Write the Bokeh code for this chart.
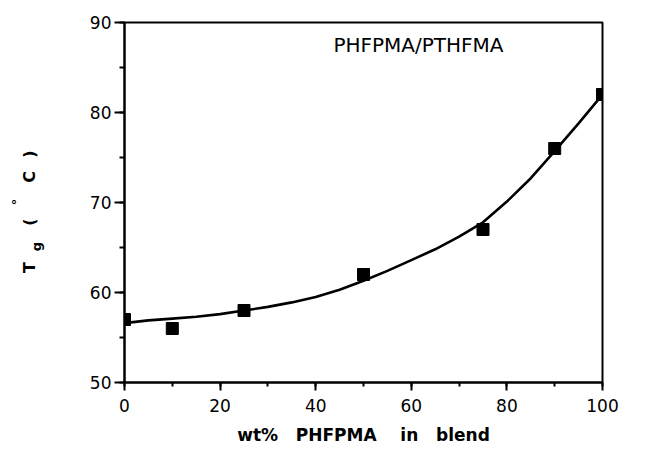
from bokeh.plotting import figure
from bokeh.layouts import row
from bokeh.models import Range1d, SingleIntervalTicker, Label
from bokeh.embed import file_html
from bokeh.resources import INLINE
import math

# measured data
wt_pct = [0, 10, 25, 50, 75, 90, 100]
tg = [57, 56, 58, 62, 67, 76, 82]

# fitted curve
curve_x = [0, 5, 10, 15, 20, 25, 30, 35, 40, 45, 50, 55, 60, 65, 70, 75, 80, 85, 90, 95, 100]
curve_y = [56.6, 56.9, 57.1, 57.3, 57.6, 58.0, 58.4, 58.9, 59.5, 60.3, 61.3, 62.4, 63.6, 64.8, 66.2, 67.8, 70.1, 72.7, 75.7, 78.8, 82.0]

series_label = "PHFPMA/PTHFMA"
x_title = "wt%\u00a0\u00a0\u00a0PHFPMA\u00a0\u00a0\u00a0\u00a0in\u00a0\u00a0\u00a0blend"

FRAME_BOTTOM = 382  # canvas row of the plot frame's bottom edge

# ---- narrow side panel holding the rotated y title ----
side = figure(width=50, height=456, x_range=Range1d(0, 50), y_range=Range1d(0, 360),
              output_backend="svg", toolbar_location=None,
              min_border_left=0, min_border_right=0, min_border_top=22, min_border_bottom=74)
side.axis.visible = False
side.grid.visible = False
side.outline_line_color = None
side.background_fill_color = "white"
side.border_fill_color = "white"

def ylab(txt, cx, cy, size):
    side.add_layout(Label(x=cx, y=FRAME_BOTTOM - cy, x_units="screen", y_units="screen",
                          text=txt, angle=math.pi / 2, text_font="DejaVu Sans",
                          text_font_style="bold", text_font_size=size,
                          text_align="center", text_baseline="middle", text_color="black"))

ylab("T", 29, 267, "16px")
ylab("g", 36, 246, "13px")
ylab("(", 28.5, 221.5, "16px")
ylab("°", 15.5, 201.5, "13px")
ylab("C", 28.5, 176.5, "16px")
ylab(")", 28.5, 153.5, "16px")

# ---- main plot ----
p = figure(width=605, height=456, x_range=Range1d(0, 100), y_range=Range1d(50, 90),
           output_backend="svg", toolbar_location=None,
           min_border_left=74, min_border_right=53, min_border_top=22, min_border_bottom=74)
p.background_fill_color = "white"
p.border_fill_color = "white"
p.outline_line_color = "black"
p.outline_line_width = 2
p.grid.visible = False

p.xaxis.ticker = SingleIntervalTicker(interval=20, num_minor_ticks=2)
p.yaxis.ticker = SingleIntervalTicker(interval=10, num_minor_ticks=2)

for ax in (p.xaxis[0], p.yaxis[0]):
    ax.axis_line_width = 2
    ax.axis_line_color = "black"
    ax.major_tick_line_width = 2
    ax.minor_tick_line_width = 2
    ax.major_tick_in = 0
    ax.minor_tick_in = 0
    ax.major_label_text_font = "DejaVu Sans"
    ax.major_label_text_font_size = "17px"
    ax.major_label_text_color = "black"

p.xaxis.major_tick_out = 8
p.xaxis.minor_tick_out = 4
p.xaxis.major_label_standoff = 8
p.xaxis.axis_label = x_title
p.xaxis.axis_label_text_font = "DejaVu Sans"
p.xaxis.axis_label_text_font_style = "bold"
p.xaxis.axis_label_text_font_size = "17px"
p.xaxis.axis_label_text_color = "black"
p.xaxis.axis_label_standoff = 10

p.yaxis.major_tick_out = 10
p.yaxis.minor_tick_out = 5
p.yaxis.major_label_standoff = 3

p.line(curve_x, curve_y, line_color="black", line_width=2.6)
p.scatter(wt_pct, tg, marker="square", size=12, color="black")

p.add_layout(Label(x=43.7, y=87.5, text=series_label, text_font="DejaVu Sans",
                   text_font_size="20px", text_baseline="middle", text_align="left",
                   text_color="black"))

layout = row(side, p)
open("out.html", "w").write(file_html(layout, INLINE))
